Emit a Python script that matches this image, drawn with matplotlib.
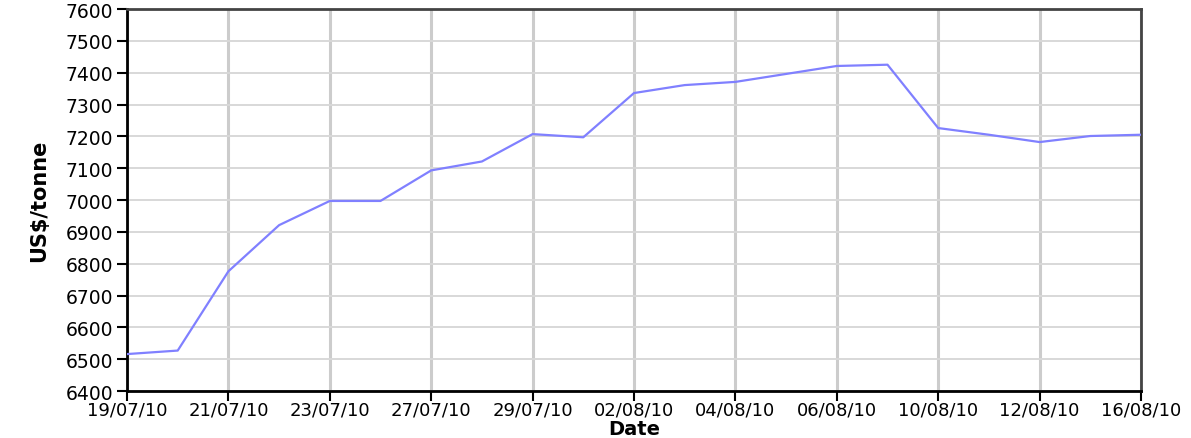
import matplotlib
matplotlib.use("Agg")
import matplotlib.pyplot as plt

dates = ["19/07/10", "20/07/10", "21/07/10", "22/07/10", "23/07/10", "26/07/10", "27/07/10",
         "28/07/10", "29/07/10", "30/07/10", "02/08/10", "03/08/10", "04/08/10", "05/08/10",
         "06/08/10", "09/08/10", "10/08/10", "11/08/10", "12/08/10", "13/08/10", "16/08/10"]
prices = [6516, 6527, 6776, 6921, 6997, 6997, 7093, 7121, 7207, 7197, 7336,
          7361, 7371, 7396, 7421, 7425, 7226, 7205, 7182, 7201, 7205]
y_ticks = list(range(6400, 7601, 100))

fig = plt.figure(figsize=(11.91, 4.39), dpi=100)
ax = fig.add_axes([127 / 1191, 1 - 392 / 439, (1141 - 127) / 1191, (392 - 10) / 439])

x = list(range(len(dates)))
ax.plot(x, prices, color="#8080ff", lw=1.6, zorder=3)

ax.set_xlim(0, len(dates) - 1)
ax.set_ylim(6400, 7600)
ax.set_xticks(x[::2])
ax.set_xticklabels(dates[::2], fontsize=13, family="DejaVu Sans")
ax.set_yticks(y_ticks)
ax.set_yticklabels([str(v) for v in y_ticks], fontsize=13.5, family="DejaVu Sans")
ax.tick_params(direction="out", length=7, width=1.5, colors="black")
ax.tick_params(axis="x", pad=0)
ax.tick_params(axis="y", pad=3)

ax.grid(axis="x", color="#cccccc", lw=2.2, zorder=1)
ax.grid(axis="y", color="#d8d8d8", lw=1.4, zorder=1)

for side in ("left", "bottom"):
    ax.spines[side].set_linewidth(2)
    ax.spines[side].set_color("black")
for side in ("top", "right"):
    ax.spines[side].set_linewidth(2)
    ax.spines[side].set_color("#444444")

ax.set_xlabel("Date", fontsize=14, fontweight="bold", labelpad=0)
ax.set_ylabel("US$/tonne", fontsize=15, fontweight="bold",
              family=["Liberation Sans Narrow", "DejaVu Sans Condensed", "DejaVu Sans"],
              labelpad=12)

fig.savefig("out.png", dpi=100)
